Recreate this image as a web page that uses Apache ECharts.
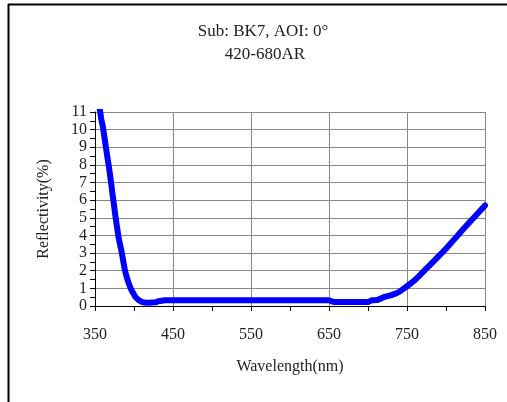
<!DOCTYPE html>
<html>
<head>
<meta charset="utf-8">
<script src="https://cdn.jsdelivr.net/npm/echarts@6/dist/echarts.min.js"></script>
<style>
  html, body { margin: 0; padding: 0; background: #fff; }
  #chart { width: 507px; height: 402px; }
</style>
</head>
<body>
<div id="chart"></div>
<script>
// Reflectance of a 420-680 nm AR coating on BK7 at normal incidence
const titleLines = ['Sub: BK7, AOI: 0°', '420-680AR'];
const xName = 'Wavelength(nm)';
const yName = 'Reflectivity(%)';

const wavelength = [
  356, 358, 360, 362, 364, 366, 368, 370, 372, 374, 376, 378, 380, 382, 384,
  386, 388, 390, 392, 394, 396, 398, 400, 402, 404, 406, 408, 410, 413, 418,
  424, 428, 431, 433, 440, 480, 520, 560, 600, 640, 650, 652, 655, 658, 680,
  700, 702, 705, 712, 715, 720, 725, 730, 735, 740, 745, 750, 755, 760, 765,
  770, 775, 780, 785, 790, 795, 800, 805, 810, 815, 820, 825, 830, 835, 840,
  845, 850
];
const reflectivity = [
  11.2, 10.6, 10.2, 9.6, 9.0, 8.4, 7.85, 7.2, 6.5, 5.85, 5.15, 4.55, 3.95, 3.5, 3.1,
  2.6, 2.1, 1.75, 1.45, 1.2, 0.97, 0.8, 0.65, 0.5, 0.4, 0.33, 0.27, 0.23, 0.2, 0.19,
  0.2, 0.21, 0.27, 0.32, 0.33, 0.33, 0.33, 0.33, 0.33, 0.33, 0.33, 0.3, 0.24, 0.22, 0.22,
  0.22, 0.28, 0.32, 0.34, 0.4, 0.5, 0.56, 0.62, 0.7, 0.8, 0.96, 1.12, 1.29, 1.47, 1.68,
  1.9, 2.13, 2.35, 2.57, 2.8, 3.02, 3.25, 3.5, 3.75, 4.0, 4.25, 4.5, 4.74, 4.98, 5.22,
  5.46, 5.7
];

// x ticks every 50 nm, labels and grid lines every 100 nm starting at 350
const xMin = 350, xMax = 850, xStep = 50, xLabelStep = 100;
const yMin = 0, yMax = 11, yStep = 1;

const font = "'Liberation Serif', 'DejaVu Serif', serif";
const textColor = '#222';

const chart = echarts.init(document.getElementById('chart'), null, { renderer: 'canvas' });

chart.setOption({
  backgroundColor: '#fff',
  animation: false,
  title: [
    { text: titleLines[0], left: 258, top: 18, textAlign: 'center',
      textStyle: { fontFamily: font, fontSize: 17, fontWeight: 'normal', color: textColor } },
    { text: titleLines[1], left: 260, top: 41, textAlign: 'center',
      textStyle: { fontFamily: font, fontSize: 17, fontWeight: 'normal', color: textColor } }
  ],
  graphic: [
    // outer frame: left and top edges
    { type: 'line', shape: { x1: 8.5, y1: 4, x2: 8.5, y2: 402 }, style: { stroke: '#000', lineWidth: 2 } },
    { type: 'line', shape: { x1: 8, y1: 4.5, x2: 507, y2: 4.5 }, style: { stroke: '#000', lineWidth: 2 } }
  ],
  grid: { left: 95, right: 22, top: 112, bottom: 96, containLabel: false },
  xAxis: {
    type: 'value',
    min: xMin, max: xMax, interval: xStep,
    name: xName, nameLocation: 'middle', nameGap: 53,
    nameTextStyle: { fontFamily: font, fontSize: 16, color: textColor },
    axisLine: { show: true, lineStyle: { color: '#000', width: 1 } },
    axisTick: { show: true, inside: false, length: 5, lineStyle: { color: '#000' } },
    axisLabel: {
      fontFamily: font, fontSize: 16, color: textColor, margin: 21,
      formatter: v => ((v - xMin) % xLabelStep === 0 ? String(v) : '')
    },
    splitLine: { show: true, lineStyle: { color: ['#888', 'rgba(0,0,0,0)'], width: 1 } }
  },
  yAxis: {
    type: 'value',
    min: yMin, max: yMax, interval: yStep,
    name: yName, nameLocation: 'middle', nameGap: 43,
    nameTextStyle: { fontFamily: font, fontSize: 16, color: textColor },
    axisLine: { show: true, lineStyle: { color: '#000', width: 1 } },
    axisTick: { show: true, inside: false, length: 5, lineStyle: { color: '#000' } },
    minorTick: { show: true, splitNumber: 2, length: 5, lineStyle: { color: '#000' } },
    axisLabel: { fontFamily: font, fontSize: 16, color: textColor, margin: 8 },
    splitLine: { show: true, lineStyle: { color: '#888', width: 1 } }
  },
  series: [{
    type: 'line',
    data: wavelength.map((w, i) => [w, reflectivity[i]]),
    showSymbol: false,
    symbol: 'none',
    smooth: false,
    clip: true,
    lineStyle: { color: '#0000ff', width: 6, cap: 'round', join: 'round' }
  }]
});
</script>
</body>
</html>
